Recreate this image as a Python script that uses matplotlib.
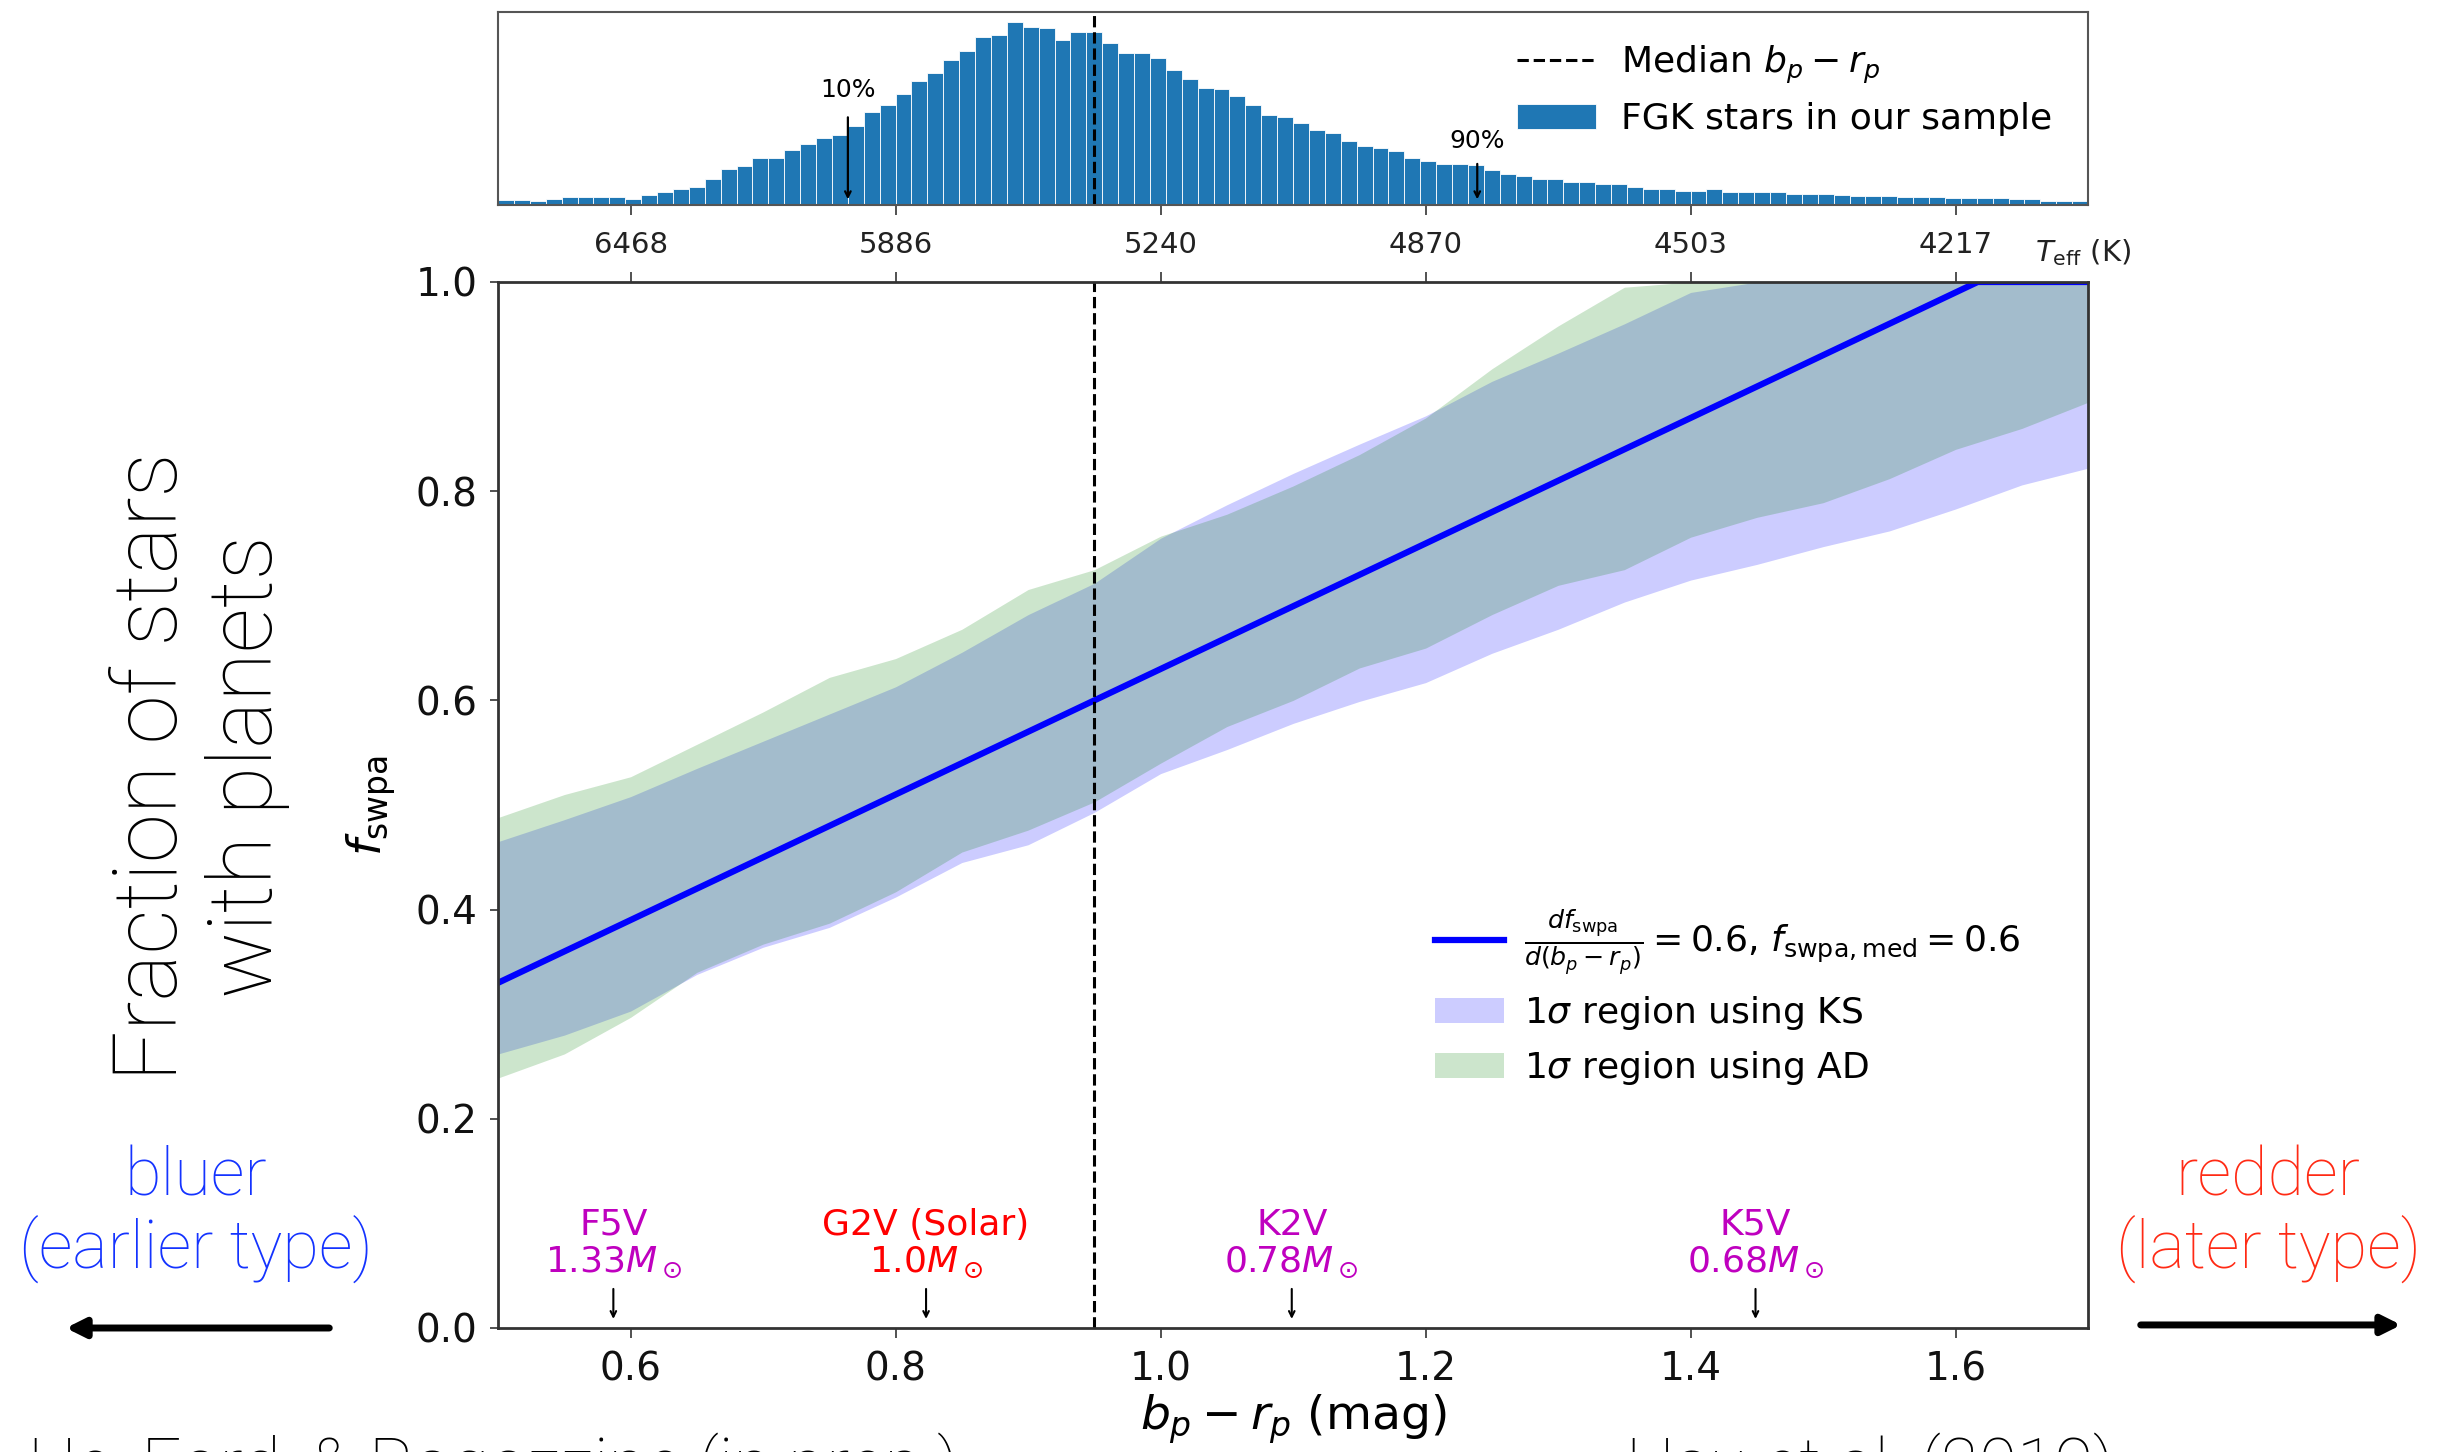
import numpy as np
import matplotlib

matplotlib.use("Agg")

import matplotlib.pyplot as plt
from matplotlib.patches import FancyArrowPatch

# bp-rp histogram of the FGK sample: 100 equal bins between 0.5 and 1.7
bin_lo, bin_hi, n_bins = 0.5, 1.7, 100
hist_counts = [
    26, 26, 21, 29, 40, 40, 40, 40, 29, 53,
    67, 81, 93, 136, 187, 201, 244, 244, 287, 318,
    347, 364, 411, 483, 522, 576, 644, 686, 751, 802,
    871, 885, 950, 926, 919, 859, 897, 897, 842, 790,
    790, 765, 699, 655, 610, 605, 565, 522, 467, 455,
    428, 390, 376, 333, 309, 296, 282, 244, 227, 215,
    215, 206, 184, 163, 149, 136, 136, 122, 122, 110,
    110, 95, 84, 84, 72, 72, 81, 69, 69, 69,
    69, 58, 58, 58, 50, 45, 45, 45, 40, 40,
    40, 34, 34, 34, 34, 29, 29, 21, 21, 21,
]
bp_rp_median = 0.95
pct10, pct90 = 0.764, 1.239

# top axis: Teff matching the bp-rp ticks
bp_rp_ticks = [0.6, 0.8, 1.0, 1.2, 1.4, 1.6]
teff_labels = ["6468", "5886", "5240", "4870", "4503", "4217"]

# linear model for f_swpa
slope, f_med = 0.6, 0.6

# 1-sigma regions (KS and AD distance)
band_x = [0.50, 0.55, 0.60, 0.65, 0.70, 0.75, 0.80, 0.85, 0.90, 0.95, 1.00, 1.05, 1.10,
          1.15, 1.20, 1.25, 1.30, 1.35, 1.40, 1.45, 1.50, 1.55, 1.60, 1.65, 1.70]
ks_hi = [0.465, 0.486, 0.508, 0.535, 0.561, 0.587, 0.613, 0.646, 0.682, 0.712, 0.755, 0.787, 0.817,
         0.845, 0.872, 0.905, 0.932, 0.960, 0.990, 1.0, 1.0, 1.0, 1.0, 1.0, 1.0]
ks_lo = [0.262, 0.280, 0.303, 0.338, 0.364, 0.383, 0.412, 0.445, 0.462, 0.493, 0.530, 0.553, 0.578,
         0.599, 0.617, 0.645, 0.668, 0.694, 0.715, 0.730, 0.747, 0.762, 0.783, 0.806, 0.822]
ad_hi = [0.488, 0.510, 0.527, 0.558, 0.589, 0.622, 0.640, 0.668, 0.706, 0.725, 0.757, 0.778, 0.805,
         0.835, 0.870, 0.917, 0.958, 0.995, 1.0, 1.0, 1.0, 1.0, 1.0, 1.0, 1.0]
ad_lo = [0.239, 0.262, 0.297, 0.340, 0.367, 0.387, 0.417, 0.455, 0.476, 0.503, 0.540, 0.575, 0.600,
         0.631, 0.650, 0.682, 0.710, 0.725, 0.756, 0.775, 0.789, 0.812, 0.840, 0.860, 0.885]

# reference spectral types
sptypes = ["F5V\n$1.33M_\\odot$", "G2V (Solar)\n$1.0M_\\odot$", "K2V\n$0.78M_\\odot$", "K5V\n$0.68M_\\odot$"]
sptype_x = [0.587, 0.823, 1.099, 1.449]
sptype_colors = ["m", "r", "m", "m"]

HIST_BLUE = "#1f77b4"
SLIDE_FONT = dict(family=["Roboto", "DejaVu Sans"], fontweight="light")

fig = plt.figure(figsize=(24.56, 14.52), dpi=100)
ax = fig.add_axes([0.2028, 0.0854, 0.6474, 0.7204])
axh = fig.add_axes([0.2028, 0.8588, 0.6474, 0.1326])

# --- histogram panel ---
edges = np.linspace(bin_lo, bin_hi, n_bins + 1)
axh.bar(edges[:-1], hist_counts, width=np.diff(edges), align="edge", color=HIST_BLUE,
        edgecolor="white", linewidth=0.6, label="FGK stars in our sample")
axh.axvline(bp_rp_median, color="k", ls="--", lw=2.2, label="Median $b_p - r_p$")
axh.annotate("", xy=(pct10, 15), xytext=(pct10, 470),
             arrowprops=dict(arrowstyle="->", color="k", lw=1.6))
axh.text(pct10, 595, "10%", ha="center", va="center", fontsize=18)
axh.annotate("", xy=(pct90, 15), xytext=(pct90, 228),
             arrowprops=dict(arrowstyle="->", color="k", lw=1.6))
axh.text(pct90, 335, "90%", ha="center", va="center", fontsize=18)
axh.set_xlim(bin_lo, bin_hi)
axh.set_ylim(0, 1000)
axh.set_yticks([])
axh.set_xticks(bp_rp_ticks)
axh.set_xticklabels(teff_labels)
axh.tick_params(axis="x", labelsize=21, length=7, width=1.2, pad=12, colors="#333333",
                labelcolor="#222222")
for s in axh.spines.values():
    s.set_color("#555555")
    s.set_linewidth(1.5)
axh.legend(loc="upper right", bbox_to_anchor=(0.989, 0.93), frameon=False, fontsize=26,
           handlelength=2.2, handletextpad=0.7, labelspacing=0.45, borderpad=0)
fig.text(0.8286, 0.8258, "$T_{\\rm eff}$ (K)", ha="left", va="center", fontsize=21,
         color="#222222")

# --- main panel ---
ks_band = ax.fill_between(band_x, ks_lo, ks_hi, color="b", alpha=0.2, lw=0,
                          label="1$\\sigma$ region using KS")
ad_band = ax.fill_between(band_x, ad_lo, ad_hi, color="g", alpha=0.2, lw=0,
                          label="1$\\sigma$ region using AD")
x_sat = bp_rp_median + (1 - f_med) / slope
x_line = np.array([bin_lo, bp_rp_median, x_sat, bin_hi])
f_line = np.clip(f_med + slope * (x_line - bp_rp_median), 0, 1)
(model_line,) = ax.plot(x_line, f_line, color="b", lw=4.5,
                        label="$\\frac{df_{\\rm swpa}}{d(b_p - r_p)} = 0.6$, $f_{\\rm swpa,med} = 0.6$")
ax.axvline(bp_rp_median, color="k", ls="--", lw=2.2)

for lab, xs, c in zip(sptypes, sptype_x, sptype_colors):
    ax.annotate("", xy=(xs, 0.006), xytext=(xs, 0.04),
                arrowprops=dict(arrowstyle="->", color="k", lw=1.5))
    ax.text(xs, 0.046, lab, ha="center", va="bottom", color=c, fontsize=26,
            linespacing=1.1)

ax.set_xlim(bin_lo, bin_hi)
ax.set_ylim(0, 1)
ax.set_xticks(bp_rp_ticks)
ax.set_yticks([0.0, 0.2, 0.4, 0.6, 0.8, 1.0])
ax.yaxis.set_major_formatter(plt.FormatStrFormatter("%.1f"))
ax.tick_params(axis="x", labelsize=28, length=7, width=1.2, pad=9, top=True,
               colors="#333333", labelcolor="#111111")
ax.tick_params(axis="y", labelsize=28, length=6, width=1.2, pad=9,
               colors="#333333", labelcolor="#111111")
for s in ax.spines.values():
    s.set_color("#333333")
    s.set_linewidth(2)
ax.set_xlabel("$b_p - r_p$ (mag)", fontsize=34)
ax.xaxis.set_label_coords(0.5, -0.062)
ax.set_ylabel("$f_{\\rm swpa}$", fontsize=34)
ax.yaxis.set_label_coords(-0.063, 0.5)
ax.legend(handles=[model_line, ks_band, ad_band], loc="lower left",
          bbox_to_anchor=(0.578, 0.213), frameon=False, fontsize=26,
          handlelength=1.9, handletextpad=0.55, labelspacing=0.47, borderpad=0)

# --- slide annotations around the plot ---
fig.text(0.0814, 0.4718, "Fraction of stars\nwith planets", rotation=90, ha="center",
         va="center", fontsize=64, linespacing=1.15, multialignment="center", **SLIDE_FONT)
fig.text(0.0798, 0.164, "bluer\n(earlier type)", ha="center", va="center", fontsize=48,
         linespacing=1.1, color="#1433ff", **SLIDE_FONT)
fig.text(0.9235, 0.164, "redder\n(later type)", ha="center", va="center", fontsize=48,
         linespacing=1.1, color="#ff2a14", **SLIDE_FONT)
for start, end in [((0.1352, 0.0854), (0.0257, 0.0854)), ((0.8705, 0.0875), (0.9788, 0.0875))]:
    fig.add_artist(FancyArrowPatch(start, end, transform=fig.transFigure, arrowstyle="-|>",
                                   mutation_scale=28, lw=5, color="k"))
fig.text(0.0114, -0.024, "He, Ford, & Ragozzine (in prep.)", ha="left", va="baseline",
         fontsize=50, **SLIDE_FONT)
fig.text(0.7614, -0.024, "Hsu et al. (2019)", ha="center", va="baseline", fontsize=50,
         **SLIDE_FONT)

fig.savefig("out.png", dpi=100)
